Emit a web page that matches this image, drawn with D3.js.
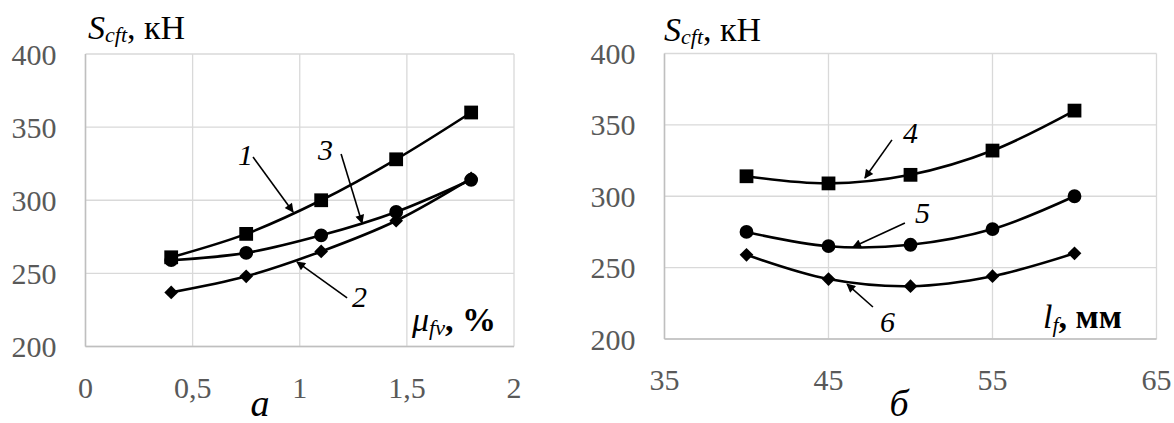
<!DOCTYPE html>
<html>
<head>
<meta charset="utf-8">
<script src="https://cdn.jsdelivr.net/npm/d3@7"></script>
<style>
  html, body { margin: 0; padding: 0; background: #fff; }
  svg { display: block; }
</style>
</head>
<body>
<svg id="chart" width="1174" height="423" font-family="Liberation Serif"></svg>
<script>
// ---------- data ----------
const yTicks = [200, 250, 300, 350, 400];
const xTicksA = [0, 0.5, 1, 1.5, 2];
const xTickLabelsA = ["0", "0,5", "1", "1,5", "2"];
const xTicksB = [35, 45, 55, 65];
const xTickLabelsB = ["35", "45", "55", "65"];

const muFv = [0.4, 0.75, 1.1, 1.45, 1.8];
const series1 = [261, 277, 300, 328, 360];   // squares
const series2 = [237, 248, 265, 286, 315];   // diamonds
const series3 = [259, 264, 276, 292, 314];   // circles

const lf = [40, 45, 50, 55, 60];
const series4 = [314, 309, 315, 332, 360];   // squares
const series5 = [275, 265, 266, 277, 300];   // circles
const series6 = [259, 242, 237, 244, 260];   // diamonds

// annotation labels (data units): [label, textX, textY, arrowFromX, arrowFromY, arrowToX, arrowToY]
const notesA = [
  ["1", 0.712, 324, 0.782, 329.6, 0.969, 292],
  ["3", 1.085, 327.5, 1.193, 331.6, 1.291, 284.4],
  ["2", 1.244, 227, 1.221, 233.2, 0.987, 257.8]
];
const notesB = [
  ["4", 49.54, 337.3, 48.87, 339.5, 47.22, 312.8],
  ["5", 50.27, 281.3, 49.66, 281.3, 46.49, 264.4],
  ["6", 48.14, 204.9, 47.71, 222.4, 46.13, 238.5]
];

// ---------- drawing ----------
const FONT = "Liberation Serif";
const svg = d3.select("#chart");
svg.append("rect").attr("width", 1174).attr("height", 423).attr("fill", "#fff");

const defs = svg.append("defs");
defs.append("marker")
  .attr("id", "arr").attr("viewBox", "0 0 10 10")
  .attr("refX", 9).attr("refY", 5)
  .attr("markerWidth", 11).attr("markerHeight", 9)
  .attr("markerUnits", "userSpaceOnUse")
  .attr("orient", "auto")
  .append("path").attr("d", "M0,0 L10,5 L0,10 Z").attr("fill", "#000");

const sym = {
  square: d3.symbol().type(d3.symbolSquare).size(190),
  circle: d3.symbol().type(d3.symbolCircle).size(150),
  diamond: d3.symbol().type(d3.symbolDiamond2).size(120)
};

function panel(cfg) {
  const g = svg.append("g");
  const x = d3.scaleLinear().domain(cfg.xDomain).range([cfg.left, cfg.right]);
  const y = d3.scaleLinear().domain([200, 400]).range([cfg.bottom, cfg.top]);

  // gridlines
  g.selectAll(".hg").data(yTicks).join("line")
    .attr("x1", cfg.left).attr("x2", cfg.right)
    .attr("y1", d => y(d)).attr("y2", d => y(d))
    .attr("stroke", "#d9d9d9").attr("stroke-width", 1.3);
  g.selectAll(".vg").data(cfg.xTicks).join("line")
    .attr("x1", d => x(d)).attr("x2", d => x(d))
    .attr("y1", cfg.top).attr("y2", cfg.bottom)
    .attr("stroke", "#d9d9d9").attr("stroke-width", 1.3);
  // axis lines
  g.append("line").attr("x1", cfg.left).attr("x2", cfg.right)
    .attr("y1", cfg.bottom).attr("y2", cfg.bottom)
    .attr("stroke", "#bfbfbf").attr("stroke-width", 1.5);
  g.append("line").attr("x1", cfg.left).attr("x2", cfg.left)
    .attr("y1", cfg.top).attr("y2", cfg.bottom)
    .attr("stroke", "#bfbfbf").attr("stroke-width", 1.5);

  // tick labels
  g.selectAll(".yl").data(yTicks).join("text")
    .attr("font-family", FONT)
    .attr("x", cfg.left - 29).attr("y", d => y(d)).attr("dy", "0.35em")
    .attr("text-anchor", "end").attr("font-size", 30).attr("fill", "#595959")
    .text(d => d);
  g.selectAll(".xl").data(cfg.xTicks).join("text")
    .attr("font-family", FONT)
    .attr("x", d => x(d)).attr("y", cfg.bottom + 51)
    .attr("text-anchor", "middle").attr("font-size", 30).attr("fill", "#595959")
    .text((d, i) => cfg.xLabels[i]);

  // series
  const line = d3.line().x(d => x(d[0])).y(d => y(d[1])).curve(d3.curveCatmullRom.alpha(0.5));
  cfg.series.forEach(s => {
    const pts = cfg.xs.map((v, i) => [v, s.values[i]]);
    g.append("path").attr("d", line(pts)).attr("fill", "none")
      .attr("stroke", "#000").attr("stroke-width", 2.6);
    g.selectAll(null).data(pts).join("path")
      .attr("transform", d => `translate(${x(d[0])},${y(d[1])})`)
      .attr("d", sym[s.marker]()).attr("fill", "#000");
  });

  // annotations
  cfg.notes.forEach(n => {
    g.append("line")
      .attr("x1", x(n[3])).attr("y1", y(n[4]))
      .attr("x2", x(n[5])).attr("y2", y(n[6]))
      .attr("stroke", "#000").attr("stroke-width", 1.6)
      .attr("marker-end", "url(#arr)");
    g.append("text").attr("font-family", FONT)
      .attr("x", x(n[1])).attr("y", y(n[2]))
      .attr("font-size", 30).attr("font-style", "italic").text(n[0]);
  });

  // title
  const t = g.append("text").attr("font-family", FONT)
    .attr("x", cfg.titleX).attr("y", cfg.titleY).attr("font-size", 34);
  t.append("tspan").attr("font-style", "italic").text("S");
  t.append("tspan").attr("font-style", "italic").attr("font-size", 22).attr("dy", 3).text("cft");
  t.append("tspan").attr("dy", -3).text(", кН");

  // x-axis name
  const a = g.append("text").attr("font-family", FONT)
    .attr("x", cfg.axX).attr("y", cfg.axY).attr("font-size", 34);
  a.append("tspan").attr("font-style", "italic").text(cfg.axMain);
  a.append("tspan").attr("font-style", "italic").attr("font-size", 22).attr("dy", 4).text(cfg.axSub);
  a.append("tspan").attr("dy", -4).attr("font-weight", "bold").text(cfg.axUnit);

  // panel letter
  g.append("text").attr("font-family", FONT)
    .attr("x", cfg.letterX).attr("y", 416)
    .attr("text-anchor", "middle").attr("font-size", 38).attr("font-style", "italic")
    .text(cfg.letter);
}

panel({
  left: 85.5, right: 514, top: 54, bottom: 346.5,
  xDomain: [0, 2], xTicks: xTicksA, xLabels: xTickLabelsA, xs: muFv,
  series: [
    { values: series1, marker: "square" },
    { values: series2, marker: "diamond" },
    { values: series3, marker: "circle" }
  ],
  notes: notesA,
  titleX: 88, titleY: 39,
  axX: 412, axY: 331, axMain: "μ", axSub: "fv", axUnit: ", %",
  letterX: 260, letter: "а"
});

panel({
  left: 664.5, right: 1156.5, top: 53.5, bottom: 339,
  xDomain: [35, 65], xTicks: xTicksB, xLabels: xTickLabelsB, xs: lf,
  series: [
    { values: series4, marker: "square" },
    { values: series5, marker: "circle" },
    { values: series6, marker: "diamond" }
  ],
  notes: notesB,
  titleX: 664, titleY: 41,
  axX: 1043, axY: 328, axMain: "l", axSub: "f", axUnit: ", мм",
  letterX: 899, letter: "б"
});
</script>
</body>
</html>
